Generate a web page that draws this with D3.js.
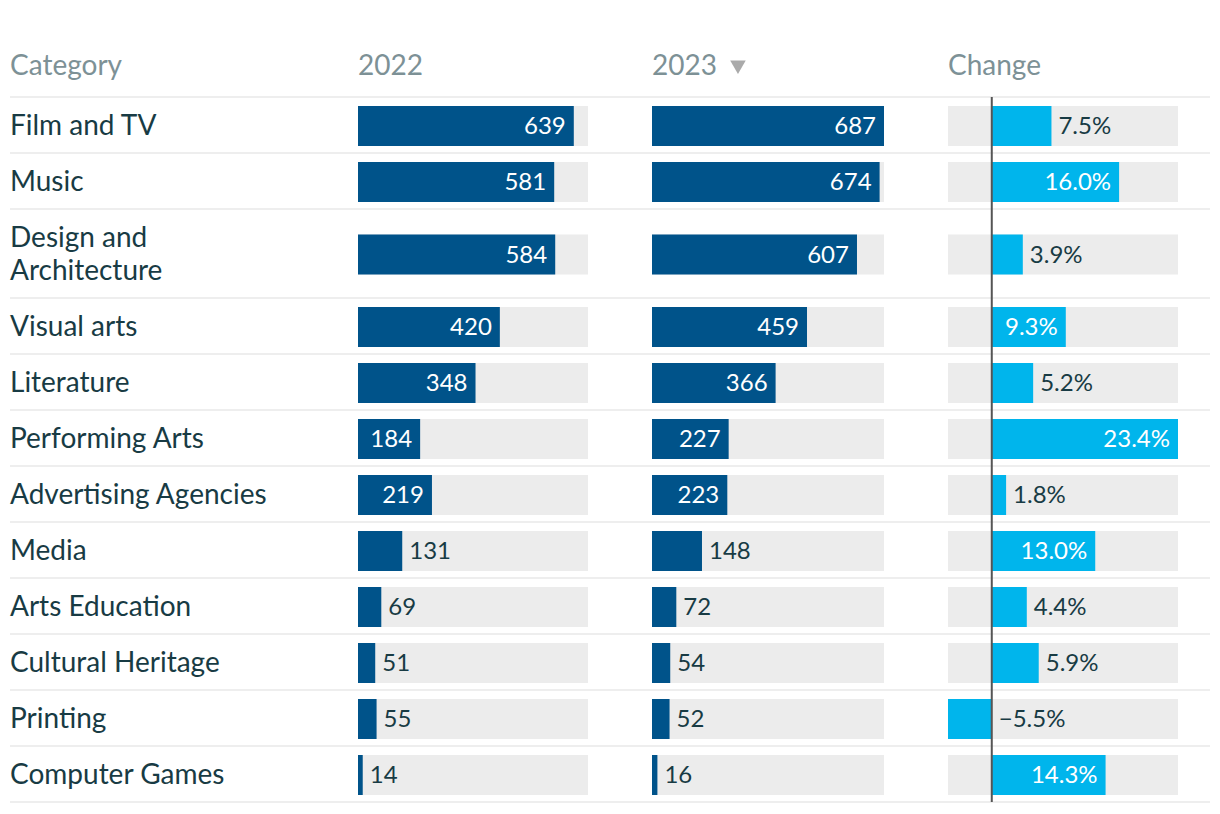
<!DOCTYPE html>
<html>
<head>
<meta charset="utf-8">
<script src="https://cdn.jsdelivr.net/npm/d3@7"></script>
<style>
  body { margin: 0; background: #fff; }
  text { font-family: Lato, "Open Sans", sans-serif; }
</style>
</head>
<body>
<div id="chart"></div>
<script>
// data
var categories = ["Film and TV", "Music", "Design and Architecture", "Visual arts", "Literature",
  "Performing Arts", "Advertising Agencies", "Media", "Arts Education", "Cultural Heritage",
  "Printing", "Computer Games"];
var values2022 = [639, 581, 584, 420, 348, 184, 219, 131, 69, 51, 55, 14];
var values2023 = [687, 674, 607, 459, 366, 227, 223, 148, 72, 54, 52, 16];
var changes = [7.5, 16.0, 3.9, 9.3, 5.2, 23.4, 1.8, 13.0, 4.4, 5.9, -5.5, 14.3];
var headers = ["Category", "2022", "2023", "Change"];

var width = 1220, height = 814;
var left = 10, right = 1210;
var headerBottom = 97;
var baseRow = 56, lineH = 33;
var barH = 40;
var colX = [10, 358, 652, 948];
var colW = 231;
var catWrap = 280;

var darkBlue = "#00538a", lightBlue = "#00b5ec", bgGrey = "#ececec";
var textDark = "#183b44", headGrey = "#7d9196";

var svg = d3.select("#chart").append("svg")
    .attr("width", width)
    .attr("height", height);

// header
var heads = svg.selectAll(".head")
  .data(headers)
  .enter()
  .append("text")
    .attr("class", "head")
    .attr("x", function(d, i) { return colX[i]; })
    .attr("y", 75)
    .attr("fill", headGrey)
    .style("font-size", "28px")
    .text(function(d) { return d; });

// sort marker next to 2023
var w2023 = heads.filter(function(d) { return d == "2023"; }).node().getComputedTextLength();
svg.append("path")
    .attr("d", d3.symbol().type(d3.symbolTriangle).size(105))
    .attr("transform", "translate(" + (colX[2] + w2023 + 21) + ",65) rotate(180)")
    .attr("fill", "#aaaaaa");

svg.append("line")
    .attr("x1", left).attr("x2", right)
    .attr("y1", headerBottom).attr("y2", headerBottom)
    .attr("stroke", "#eeeeee").attr("stroke-width", 2);

// wrap category names by measuring
var measure = svg.append("text").style("font-size", "28px");
function wrap(label) {
  var words = label.split(" "), lines = [], cur = "";
  words.forEach(function(w) {
    var test = cur ? cur + " " + w : w;
    measure.text(test);
    if (measure.node().getComputedTextLength() > catWrap && cur) {
      lines.push(cur);
      cur = w;
    } else {
      cur = test;
    }
  });
  lines.push(cur);
  return lines;
}

var rows = [];
var yTop = headerBottom;
categories.forEach(function(c, i) {
  var lines = wrap(c);
  var h = baseRow + (lines.length - 1) * lineH;
  rows.push({cat: c, lines: lines, top: yTop, h: h, v22: values2022[i], v23: values2023[i], ch: changes[i]});
  yTop += h;
});
measure.remove();

var x = d3.scaleLinear()
    .domain([0, d3.max(values2023.concat(values2022))])
    .range([0, 232]);

var xc = d3.scaleLinear()
    .domain([d3.min(changes), d3.max(changes)])
    .range([colX[3], colX[3] + 230]);

var row = svg.selectAll(".row")
  .data(rows)
  .enter()
  .append("g")
    .attr("class", "row")
    .attr("transform", function(d) { return "translate(0," + d.top + ")"; });

// separator
row.append("line")
    .attr("x1", left).attr("x2", right)
    .attr("y1", function(d) { return d.h; }).attr("y2", function(d) { return d.h; })
    .attr("stroke", "#eeeeee").attr("stroke-width", 2);

// category text
row.each(function(d) {
  var g = d3.select(this);
  var n = d.lines.length;
  var t = g.append("text")
      .attr("fill", textDark)
      .style("font-size", "28px");
  d.lines.forEach(function(l, j) {
    t.append("tspan")
      .attr("x", left)
      .attr("y", d.h / 2 + 10 + (j - (n - 1) / 2) * lineH)
      .text(l);
  });
});

function valueLabel(g, d, x0, w, txt) {
  var t = g.append("text")
      .attr("y", d.h / 2 + 9)
      .style("font-size", "24px")
      .text(txt);
  var tw = t.node().getComputedTextLength();
  if (w >= tw + 16) {
    t.attr("x", x0 + w - 8).attr("text-anchor", "end").attr("fill", "#ffffff");
  } else {
    t.attr("x", x0 + Math.max(w, 0) + 7).attr("fill", textDark);
  }
}

// value columns
[["v22", 1, 230], ["v23", 2, 232]].forEach(function(p) {
  var key = p[0], ci = p[1], bw = p[2];
  row.append("rect")
      .attr("x", colX[ci])
      .attr("y", function(d) { return (d.h - barH) / 2 + 1; })
      .attr("width", bw)
      .attr("height", barH)
      .attr("fill", bgGrey);
  row.append("rect")
      .attr("x", colX[ci])
      .attr("y", function(d) { return (d.h - barH) / 2 + 1; })
      .attr("width", function(d) { return x(d[key]); })
      .attr("height", barH)
      .attr("fill", darkBlue);
  row.each(function(d) {
    valueLabel(d3.select(this), d, colX[ci], x(d[key]), d3.format("d")(d[key]));
  });
});

// change column
row.append("rect")
    .attr("x", colX[3])
    .attr("y", function(d) { return (d.h - barH) / 2 + 1; })
    .attr("width", 230)
    .attr("height", barH)
    .attr("fill", bgGrey);
row.append("rect")
    .attr("x", function(d) { return Math.min(xc(0), xc(d.ch)); })
    .attr("y", function(d) { return (d.h - barH) / 2 + 1; })
    .attr("width", function(d) { return Math.abs(xc(d.ch) - xc(0)); })
    .attr("height", barH)
    .attr("fill", lightBlue);
row.each(function(d) {
  var w = d.ch >= 0 ? xc(d.ch) - xc(0) : 0;
  var txt = (d.ch < 0 ? "\u2212" : "") + d3.format(".1f")(Math.abs(d.ch)) + "%";
  valueLabel(d3.select(this), d, xc(0), w, txt);
});

// zero line
svg.append("line")
    .attr("x1", xc(0)).attr("x2", xc(0))
    .attr("y1", headerBottom).attr("y2", yTop)
    .attr("stroke", "#555555").attr("stroke-width", 2);
</script>
</body>
</html>
